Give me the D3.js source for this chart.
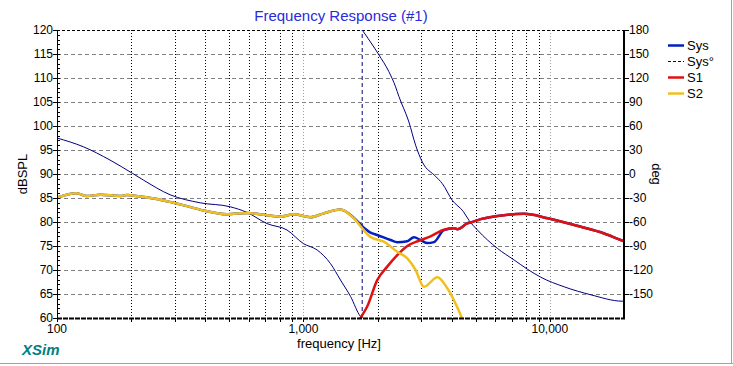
<!DOCTYPE html>
<html>
<head>
<meta charset="utf-8">
<script src="https://cdn.jsdelivr.net/npm/d3@7/dist/d3.min.js"></script>
<style>
	body { margin: 0; background: #fff; }
	svg { display: block; font-family: Arial, "Liberation Sans", sans-serif; }
</style>
</head>
<body>
<div id="chart"></div>
<script>
// frequency [Hz], SPL [dB]
const s2Freq = [100, 120, 132, 150, 180, 192, 217, 254, 297, 337, 393, 490, 590, 690, 806, 913, 1068, 1209, 1414, 1600, 1758, 1871, 2121, 2404, 2640, 2853, 3084, 3497, 3838, 4349, 4600];
const s2Spl = [85.1, 86.0, 85.4, 85.7, 85.4, 85.6, 85.3, 84.8, 84.0, 83.3, 82.4, 81.6, 81.9, 81.5, 81.1, 81.6, 81.0, 81.8, 82.6, 80.8, 78.3, 76.9, 75.9, 73.8, 72.4, 70.0, 66.5, 68.5, 66.2, 60.6, 57.5];

const s1Freq = [1600, 1705, 1815, 1993, 2188, 2404, 2640, 2943, 3281, 3718, 4083, 4215, 4628, 4775, 5243, 6130, 7864, 9790, 13370, 16620, 19750, 20000];
const s1Spl = [57.5, 60.0, 62.4, 67.9, 70.7, 73.1, 75.0, 76.1, 77.0, 78.4, 78.7, 78.5, 79.7, 79.9, 80.6, 81.25, 81.7, 80.8, 79.0, 77.6, 76.1, 76.0];

const sysFreq = [100, 120, 132, 150, 180, 192, 217, 254, 297, 337, 393, 490, 590, 690, 806, 913, 1068, 1209, 1414, 1600, 1758, 1871, 1993, 2258, 2404, 2640, 2808, 2989, 3184, 3386, 3718, 4083, 4215, 4628, 4775, 5243, 6130, 7864, 9790, 13370, 16620, 19750, 20000];
const sysSpl = [85.1, 86.0, 85.4, 85.7, 85.4, 85.6, 85.3, 84.8, 84.0, 83.3, 82.4, 81.6, 81.9, 81.5, 81.1, 81.6, 81.0, 81.8, 82.6, 80.9, 78.8, 77.8, 77.3, 76.25, 75.8, 76.0, 76.8, 76.25, 75.6, 75.8, 78.3, 78.7, 78.5, 79.7, 79.9, 80.6, 81.25, 81.7, 80.8, 79.0, 77.6, 76.1, 76.0];

// system phase [deg], wrapped as displayed
const phaseFreq = [100, 128, 164, 202, 224, 288, 381, 505, 590, 712, 858, 1000, 1137, 1288, 1414, 1553, 1705, 1732, 1732, 2024, 2222, 2366, 2440, 2680, 2853, 3038, 3441, 3662, 4022, 4459, 4699, 5083, 6126, 7163, 8111, 9190, 11430, 14680, 19750, 20000];
const phaseDeg = [45, 34, 17.5, 1, -7.5, -26, -36, -41, -48, -62, -70, -87, -95, -112, -132.5, -153, -178, -180, 180, 149, 128, 109, 97, 65, 36, 15, -3, -12, -33, -47, -58, -70, -93, -107.5, -119, -129, -141, -151, -159, -159];

const splTicks = [60, 65, 70, 75, 80, 85, 90, 95, 100, 105, 110, 115, 120];
const degTicks = [180, 150, 120, 90, 60, 30, 0, -30, -60, -90, -120, -150];
const freqLabels = [100, 1000, 10000];

const legendItems = [
	{ name: "Sys", color: "#0020c0", width: 2.5, dash: null },
	{ name: "Sys°", color: "#000080", width: 1, dash: "3,2" },
	{ name: "S1", color: "#e01010", width: 2.5, dash: null },
	{ name: "S2", color: "#f0c020", width: 2.5, dash: null },
];

const W = 733, H = 366;
const plot = { left: 57, right: 624, top: 30, bottom: 318 };

const svg = d3.select("#chart").append("svg").attr("width", W).attr("height", H);

const x = d3.scaleLog().domain([100, 20000]).range([plot.left, plot.right]);
const y = d3.scaleLinear().domain([60, 120]).range([plot.bottom, plot.top]);
const yDeg = d3.scaleLinear().domain([-180, 180]).range([plot.bottom, plot.top]);

// outer frame (right / bottom edges)
svg.append("line").attr("x1", 0).attr("x2", W).attr("y1", 363.5).attr("y2", 363.5).attr("stroke", "#a0a0a0");
svg.append("line").attr("x1", 731.5).attr("x2", 731.5).attr("y1", 0).attr("y2", 364).attr("stroke", "#a0a0a0");

svg.append("defs").append("clipPath").attr("id", "plotclip")
	.append("rect")
	.attr("x", plot.left).attr("y", plot.top)
	.attr("width", plot.right - plot.left).attr("height", plot.bottom - plot.top);

// grid
const grid = svg.append("g");
const minorFreqs = [];
for (let dec = 100; dec < 20000; dec *= 10) {
	for (let m = 1; m < 10; m++) {
		const f = dec * m;
		if (f > 100 && f < 20000) minorFreqs.push(f);
	}
}
grid.selectAll("line.vg")
	.data(minorFreqs)
	.enter()
	.append("line")
	.attr("x1", (d) => Math.round(x(d)) + 0.5)
	.attr("x2", (d) => Math.round(x(d)) + 0.5)
	.attr("y1", plot.top)
	.attr("y2", plot.bottom)
	.attr("stroke", (d) => (freqLabels.includes(d) ? "#a0a0a0" : "#000"))
	.attr("stroke-dasharray", "1,2");

grid.selectAll("line.hg")
	.data(splTicks.filter((d) => d > 60 && d < 120))
	.enter()
	.append("line")
	.attr("x1", plot.left)
	.attr("x2", plot.right)
	.attr("y1", (d) => Math.round(y(d)) + 0.5)
	.attr("y2", (d) => Math.round(y(d)) + 0.5)
	.attr("stroke", "#808080")
	.attr("stroke-dasharray", "4,3");

// top border
svg.append("line")
	.attr("x1", plot.left).attr("x2", plot.right)
	.attr("y1", plot.top + 0.5).attr("y2", plot.top + 0.5)
	.attr("stroke", "#000").attr("stroke-dasharray", "3,2");

// curves
const curves = svg.append("g").attr("clip-path", "url(#plotclip)");

const splLine = d3.line().x((d) => x(d[0])).y((d) => y(d[1])).curve(d3.curveMonotoneX);
const degLine = d3.line().x((d) => x(d[0])).y((d) => yDeg(d[1])).curve(d3.curveMonotoneX);

// phase: split at wraps, connector dashed
const phasePts = phaseFreq.map((f, i) => [f, phaseDeg[i]]);
const phaseSegs = [[phasePts[0]]];
const wraps = [];
for (let i = 1; i < phasePts.length; i++) {
	if (Math.abs(phasePts[i][1] - phasePts[i - 1][1]) > 180) {
		wraps.push([phasePts[i - 1], phasePts[i]]);
		phaseSegs.push([]);
	}
	phaseSegs[phaseSegs.length - 1].push(phasePts[i]);
}

curves.selectAll("path.phase")
	.data(phaseSegs)
	.enter()
	.append("path")
	.attr("d", degLine)
	.attr("fill", "none")
	.attr("stroke", legendItems[1].color)
	.attr("stroke-width", 1);

curves.selectAll("line.wrap")
	.data(wraps)
	.enter()
	.append("line")
	.attr("x1", (d) => x(d[0][0]))
	.attr("x2", (d) => x(d[1][0]))
	.attr("y1", (d) => yDeg(d[0][1]))
	.attr("y2", (d) => yDeg(d[1][1]))
	.attr("stroke", legendItems[1].color)
	.attr("stroke-width", 1)
	.attr("stroke-dasharray", "4,3");

const splSeries = [
	{ fr: sysFreq, v: sysSpl, item: legendItems[0] },
	{ fr: s1Freq, v: s1Spl, item: legendItems[2] },
	{ fr: s2Freq, v: s2Spl, item: legendItems[3] },
];
splSeries.forEach((s) => {
	curves.append("path")
		.attr("d", splLine(s.fr.map((f, i) => [f, s.v[i]])))
		.attr("fill", "none")
		.attr("stroke", s.item.color)
		.attr("stroke-width", s.item.width)
		.attr("stroke-linejoin", "round");
});

// left axis
const left = svg.append("g");
left.append("line")
	.attr("x1", plot.left + 0.5).attr("x2", plot.left + 0.5)
	.attr("y1", plot.top).attr("y2", plot.bottom)
	.attr("stroke", "#000");
left.selectAll("line.minor")
	.data(d3.range(60, 121, 1))
	.enter()
	.append("line")
	.attr("x1", (d) => (d % 5 === 0 ? plot.left - 4 : plot.left))
	.attr("x2", plot.left + 3)
	.attr("y1", (d) => Math.round(y(d)) + 0.5)
	.attr("y2", (d) => Math.round(y(d)) + 0.5)
	.attr("stroke", "#000");
left.selectAll("text")
	.data(splTicks)
	.enter()
	.append("text")
	.attr("x", plot.left - 4)
	.attr("y", (d) => y(d) + 4)
	.attr("text-anchor", "end")
	.attr("font-size", 12)
	.text((d) => d);

// right axis
const right = svg.append("g");
right.append("line")
	.attr("x1", plot.right).attr("x2", plot.right)
	.attr("y1", plot.top).attr("y2", plot.bottom + 1)
	.attr("stroke", "#000").attr("stroke-width", 2);
right.selectAll("line.tick")
	.data(degTicks)
	.enter()
	.append("line")
	.attr("x1", plot.right)
	.attr("x2", plot.right + 5)
	.attr("y1", (d) => Math.round(yDeg(d)) + 0.5)
	.attr("y2", (d) => Math.round(yDeg(d)) + 0.5)
	.attr("stroke", "#000");
right.selectAll("text")
	.data(degTicks)
	.enter()
	.append("text")
	.attr("x", plot.right + 5)
	.attr("y", (d) => yDeg(d) + 4)
	.attr("font-size", 12)
	.text((d) => d);

// bottom axis
const bottom = svg.append("g");
bottom.append("line")
	.attr("x1", plot.left).attr("x2", plot.right + 1)
	.attr("y1", plot.bottom + 0.5).attr("y2", plot.bottom + 0.5)
	.attr("stroke", "#000").attr("stroke-width", 2).attr("stroke-dasharray", "5,1");
bottom.selectAll("line.tick")
	.data([100].concat(minorFreqs))
	.enter()
	.append("line")
	.attr("x1", (d) => Math.round(x(d)) + 0.5)
	.attr("x2", (d) => Math.round(x(d)) + 0.5)
	.attr("y1", plot.bottom)
	.attr("y2", plot.bottom + 4)
	.attr("stroke", "#000");
bottom.selectAll("text")
	.data(freqLabels)
	.enter()
	.append("text")
	.attr("x", (d) => x(d))
	.attr("y", 333)
	.attr("text-anchor", "middle")
	.attr("font-size", 12)
	.text((d) => d3.format(",")(d));

// titles
svg.append("text")
	.attr("x", 341).attr("y", 21)
	.attr("text-anchor", "middle")
	.attr("font-size", 15)
	.attr("fill", "#2a2ad8")
	.text("Frequency Response (#1)");

svg.append("text")
	.attr("x", 339).attr("y", 348)
	.attr("text-anchor", "middle")
	.attr("font-size", 13)
	.text("frequency [Hz]");

svg.append("text")
	.attr("transform", `translate(27,${(plot.top + plot.bottom) / 2}) rotate(-90)`)
	.attr("text-anchor", "middle")
	.attr("font-size", 13)
	.text("dBSPL");

svg.append("text")
	.attr("transform", `translate(652,${(plot.top + plot.bottom) / 2}) rotate(90)`)
	.attr("text-anchor", "middle")
	.attr("font-size", 13)
	.text("deg");

svg.append("text")
	.attr("x", 22).attr("y", 355)
	.attr("font-size", 15)
	.attr("font-weight", "bold")
	.attr("font-style", "italic")
	.attr("fill", "#008080")
	.text("XSim");

// legend
const legend = svg.append("g").attr("transform", "translate(668,45)");
const li = legend.selectAll("g")
	.data(legendItems)
	.enter()
	.append("g")
	.attr("transform", (d, i) => `translate(0,${i * 16})`);
li.append("line")
	.attr("x1", 0).attr("x2", 16)
	.attr("y1", 0.5).attr("y2", 0.5)
	.attr("stroke", (d) => d.color)
	.attr("stroke-width", (d) => (d.width > 1 ? 2.5 : 1))
	.attr("stroke-dasharray", (d) => d.dash);
li.append("text")
	.attr("x", 19).attr("y", 5)
	.attr("font-size", 13)
	.text((d) => d.name);
</script>
</body>
</html>
